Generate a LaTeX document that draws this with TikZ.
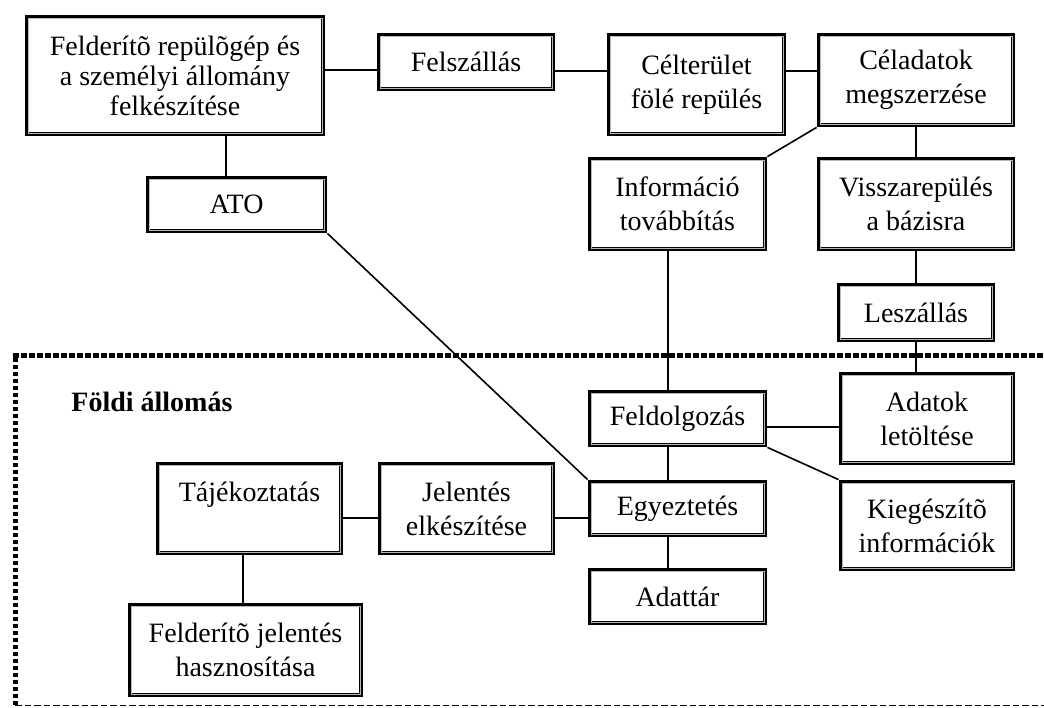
\documentclass[tikz,border=0pt]{standalone}
\usepackage{fontspec}
\setmainfont{Liberation Serif}
\begin{document}
\begin{tikzpicture}[x=0.5pt,y=-0.5pt,
  box/.style={draw=black, line width=2.4pt, fill=white, inner sep=0pt, align=center,
    font=\fontsize{14pt}{17pt}\selectfont},
  inner rule/.style={draw=gray!55, line width=0.5pt},
  link/.style={draw=black, line width=0.8pt},
  zone top/.style={draw=black, line width=2.6pt, dash pattern=on 2.75pt off 1.25pt},
  zone side/.style={draw=black, line width=2.6pt, dash pattern=on 2pt off 1.5pt},
  zone bottom/.style={draw=black, line width=0.8pt, dash pattern=on 3.25pt off 1.5pt},
  zone title/.style={inner sep=0pt, anchor=west, font=\fontsize{14pt}{17pt}\selectfont\bfseries}
]
\useasboundingbox (0,0) rectangle (1044,707);

% ground station zone (open to the right)
\coordinate (zt1) at (13,355.5);
\coordinate (zt2) at (1044,355.5);
\coordinate (zl1) at (15.5,358);
\coordinate (zl2) at (15.5,705);
\coordinate (zb1) at (15,705.5);
\coordinate (zb2) at (1044,705.5);
\draw[zone top] (zt1) -- (zt2);
\draw[zone side] (zl1) -- (zl2);
\draw[zone bottom] (zb1) -- (zb2);
\node[zone title] (foldi) at (71,402) {Földi állomás};

% flight phase
\node[box, minimum width=148pt, minimum height=58.5pt, font=\fontsize{14pt}{15pt}\selectfont]
  (prep) at (175,75.5) {Felderítõ repülõgép és\\a személyi állomány\\felkészítése};
\node[box, minimum width=87pt, minimum height=27pt] (felsz) at (466,62) {Felszállás};
\node[box, minimum width=87.5pt, minimum height=49.5pt] (celter) at (696.5,84.5) {Célterület\\fölé repülés};
\node[box, minimum width=97pt, minimum height=45pt] (celad) at (916,80) {Céladatok\\megszerzése};
\node[box, minimum width=87.5pt, minimum height=45pt] (info) at (677.5,204) {Információ\\továbbítás};
\node[box, minimum width=97pt, minimum height=45pt] (vissza) at (916,204) {Visszarepülés\\a bázisra};
\node[box, minimum width=77pt, minimum height=27.5pt] (lesz) at (916,312.5) {Leszállás};
\node[box, minimum width=88.5pt, minimum height=26.5pt] (ato) at (236.5,204.5) {ATO};

% ground phase
\node[box, minimum width=87.5pt, minimum height=26.5pt] (feld) at (677.5,418.5) {Feldolgozás};
\node[box, minimum width=86pt, minimum height=44.5pt] (adatok) at (927,418.5) {Adatok\\letöltése};
\node[box, minimum width=87.5pt, minimum height=26.5pt] (egyez) at (677.5,508.5) {Egyeztetés};
\node[box, minimum width=86pt, minimum height=43.5pt] (kieg) at (927,525.5) {Kiegészítõ\\információk};
\node[box, minimum width=87.5pt, minimum height=26.5pt] (adattar) at (677.5,596.5) {Adattár};
\node[box, minimum width=86.5pt, minimum height=44.5pt] (jel) at (466.5,508.5) {Jelentés\\elkészítése};
\node[box, minimum width=91.5pt, minimum height=44.5pt] (taj) at (249.5,508.5) {Tájékoztatás\\\mbox{}};
\node[box, minimum width=115.5pt, minimum height=45pt] (hasz) at (245.5,650) {Felderítõ jelentés\\hasznosítása};

% thin inner rule of every frame
\foreach \n in {prep,felsz,celter,celad,info,vissza,lesz,ato,feld,adatok,egyez,kieg,adattar,jel,taj,hasz}
  \draw[inner rule] ([shift={(1.7pt,1.7pt)}]\n.south west) rectangle ([shift={(-1.7pt,-1.7pt)}]\n.north east);

% connectors
\draw[link] (prep.east |- 0,70) -- (felsz.west |- 0,70);
\draw[link] (felsz.east |- 0,71) -- (celter.west |- 0,71);
\draw[link] (celter.east |- 0,71) -- (celad.west |- 0,71);
\draw[link] (celad.south west) -- (info.north east);
\draw[link] (celad.south) -- (vissza.north);
\draw[link] (vissza.south) -- (lesz.north);
\draw[link] (lesz.south) -- (lesz.south |- adatok.north);
\draw[link] (prep.south -| 226,0) -- (ato.north -| 226,0);
\draw[link] (ato.south east) -- (egyez.north west);
\draw[link] (info.south -| 668,0) -- (feld.north -| 668,0);
\draw[link] (feld.south -| 668,0) -- (egyez.north -| 668,0);
\draw[link] (egyez.south -| 668,0) -- (adattar.north -| 668,0);
\draw[link] (feld.east |- 0,427) -- (adatok.west |- 0,427);
\draw[link] (feld.south east) -- (kieg.north west);
\draw[link] (taj.east |- 0,518) -- (jel.west |- 0,518);
\draw[link] (jel.east |- 0,518) -- (egyez.west |- 0,518);
\draw[link] (taj.south -| 243,0) -- (hasz.north -| 243,0);
\end{tikzpicture}
\end{document}
